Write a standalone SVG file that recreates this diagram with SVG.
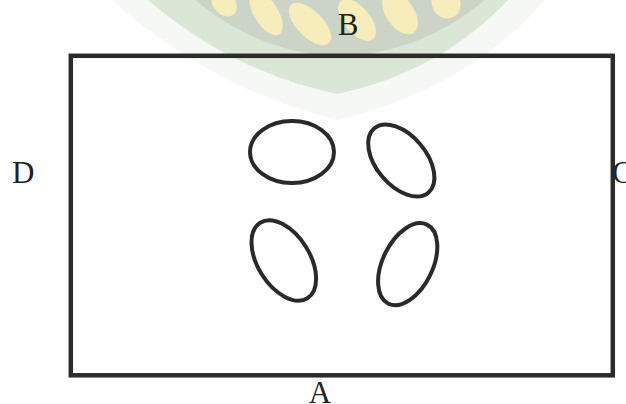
<svg xmlns="http://www.w3.org/2000/svg" width="626" height="404" viewBox="0 0 626 404">
  <style>
    .shape { fill: none; stroke: #2a2a2a; stroke-width: 4; }
    .frame { fill: none; stroke: #2b2b2b; stroke-width: 4.5; }
    .lbl { font-family: "Liberation Serif", "Times New Roman", serif; font-size: 31px; fill: #222; }
    .petal { fill: #f7edbb; }
  </style>
  <rect width="626" height="404" fill="#ffffff"/>
  <g id="watermark">
    <path d="M 112 0 Q 210 88 337 120 Q 470 88 545 0 Z" fill="#f5f8f4"/>
    <path d="M 148 0 Q 232 72 337 94 Q 440 72 508 0 Z" fill="#dae7d7"/>
    <path d="M 195 0 Q 262 55 340 56 Q 420 54 485 0 Z" fill="#cbd4c7"/>
    <ellipse class="petal" cx="224" cy="3" rx="11" ry="15" transform="rotate(-40 224 3)"/>
    <ellipse class="petal" cx="266" cy="13" rx="12" ry="25" transform="rotate(-32 266 13)"/>
    <ellipse class="petal" cx="310" cy="24" rx="13" ry="27" transform="rotate(-45 310 24)"/>
    <ellipse class="petal" cx="357" cy="20" rx="13" ry="25" transform="rotate(-40 357 20)"/>
    <ellipse class="petal" cx="400" cy="13" rx="14" ry="24" transform="rotate(-35 400 13)"/>
    <ellipse class="petal" cx="446" cy="3" rx="14" ry="16" transform="rotate(-30 446 3)"/>
  </g>
  <g id="area">
    <rect class="frame" x="70.8" y="55.8" width="542" height="319.5"/>
  </g>
  <g id="hole1">
    <ellipse class="shape" cx="292" cy="152" rx="42" ry="31"/>
  </g>
  <g id="hole2">
    <ellipse class="shape" cx="401.3" cy="160.5" rx="25" ry="42" transform="rotate(-40 401.3 160.5)"/>
  </g>
  <g id="hole3">
    <ellipse class="shape" cx="283.8" cy="260.5" rx="26" ry="44.5" transform="rotate(-32 283.8 260.5)"/>
  </g>
  <g id="hole4">
    <ellipse class="shape" cx="407.7" cy="264.2" rx="25" ry="44" transform="rotate(26 407.7 264.2)"/>
  </g>
  <g id="connectors"></g>
  <g id="labels">
    <text class="lbl" x="348" y="35" text-anchor="middle">B</text>
    <text class="lbl" x="12" y="182.5">D</text>
    <text class="lbl" x="612" y="182.5">C</text>
    <text class="lbl" x="320" y="403" text-anchor="middle">A</text>
  </g>
</svg>
